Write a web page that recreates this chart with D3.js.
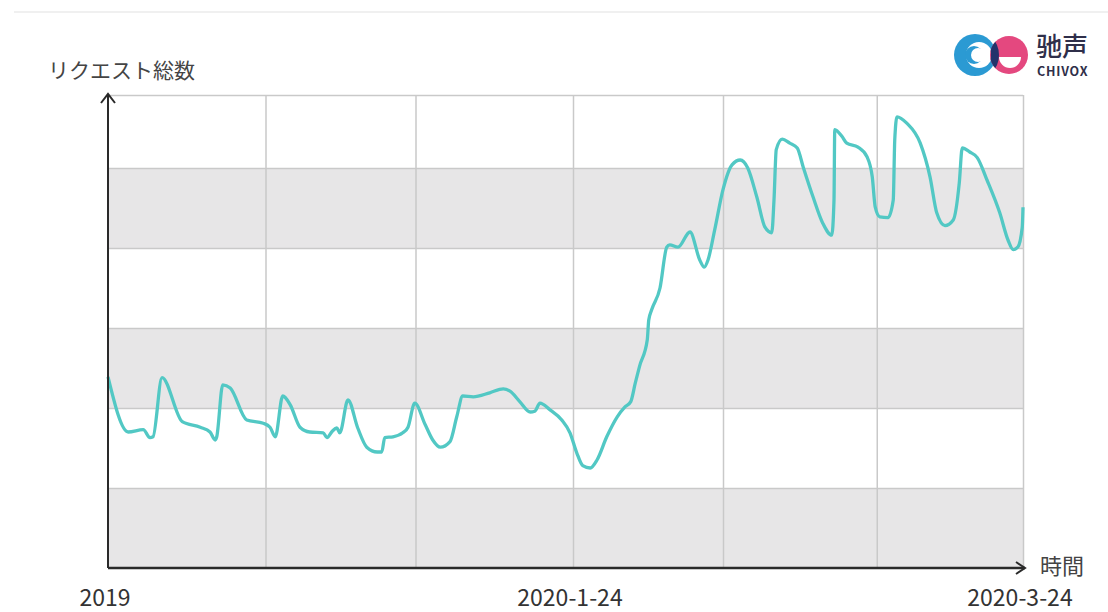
<!DOCTYPE html>
<html>
<head>
<meta charset="utf-8">
<script src="https://cdn.jsdelivr.net/npm/d3@7"></script>
<style>
body { margin: 0; background: #fff; }
svg { display: block; }
text { font-family: "Noto Sans CJK JP", "Noto Sans", sans-serif; }
</style>
</head>
<body>
<svg id="chart" width="1108" height="612"></svg>
<script>
// days since start (2019) and request totals (one grid band = 100)
let days = [0, 2.7, 4.7, 5.6, 6.0, 7.2, 9.9, 12.3, 13.6, 14.3, 14.5, 15.3, 16.3, 18.5, 20.7, 21.6, 22.3,
    23.3, 24.3, 25.6, 26.9, 28.7, 29.2, 29.9, 30.5, 30.9, 32.0, 33.3, 34.5, 35.9, 36.5, 36.9, 38.0,
    39.3, 40.0, 40.9, 42.3, 43.3, 44.3, 45.6, 46.5, 47.3, 48.7, 50.9, 52.7, 53.6, 54.9, 56.3, 56.9,
    57.6, 58.9, 60.5, 61.6, 62.5, 63.3, 64.3, 65.2, 66.5, 67.9, 68.9, 69.7, 70.3, 70.9, 71.9, 72.1,
    72.5, 73.6, 74.5, 74.9, 76.0, 77.6, 78.9, 79.5, 80.0, 80.9, 82.0, 83.2, 84.3, 85.3, 86.5, 87.6,
    88.5, 88.8, 89.1, 89.9, 90.9, 91.9, 92.7, 94.0, 95.3, 96.5, 96.8, 96.9, 97.9, 98.5, 100.0, 101.2,
    101.9, 102.3, 102.9, 104.0, 104.7, 104.9, 105.2, 106.5, 108.3, 109.6, 110.5, 111.6, 112.7, 113.5,
    113.9, 114.9, 115.9, 117.2, 118.9, 120.0, 120.7, 121.3, 121.9, 122];
let requests = [239, 170, 173, 163, 164, 238, 183, 176, 170, 160, 164, 229, 225, 185, 181, 176, 164,
    215, 204, 176, 170, 169, 163, 171, 175, 169, 210, 175, 151, 145, 145, 163, 164,
    169, 176, 206, 179, 160, 151, 158, 189, 215, 214, 219, 224, 221, 208, 195, 196,
    206, 198, 185, 169, 144, 128, 125, 135, 164, 189, 201, 208, 231, 253, 285, 310,
    323, 350, 401, 404, 401, 420, 385, 376, 385, 423, 473, 504, 510, 500, 464, 426,
    419, 460, 523, 536, 531, 525, 501, 464, 431, 416, 460, 548, 539, 531, 526, 514,
    489, 451, 439, 438, 460, 535, 564, 556, 531, 489, 444, 428, 435, 481,
    525, 520, 513, 485, 444, 410, 398, 401, 426, 451];

let gridDays = [21, 41, 62, 82, 102.5, 122];
let gridValues = [100, 200, 300, 400, 500];
let bands = [[0, 100], [200, 300], [400, 500]];
let tickDays = [0, 62, 122];
let tickLabels = ["2019", "2020-1-24", "2020-3-24"];

let svg = d3.select("#chart");
let margin = { top: 95, right: 85, bottom: 44, left: 108 };
let width = +svg.attr("width") - margin.left - margin.right,
    height = +svg.attr("height") - margin.top - margin.bottom;

let x = d3.scaleLinear().domain([0, 122]).range([0, width]);
let yMax = 591.25;
let y = d3.scaleLinear().domain([0, yMax]).range([height, 0]);

// thin rule at top of the page
svg.append("line")
    .attr("x1", 14).attr("x2", 1108)
    .attr("y1", 12).attr("y2", 12)
    .attr("stroke", "#ebebeb").attr("stroke-width", 1.5);

let focus = svg.append("g")
    .attr("transform", "translate(" + margin.left + "," + margin.top + ")");

// grey bands
focus.selectAll(".band")
    .data(bands)
    .enter()
    .append("rect")
    .attr("class", "band")
    .attr("x", 0)
    .attr("width", width)
    .attr("y", function (d) { return y(d[1]); })
    .attr("height", function (d) { return y(d[0]) - y(d[1]); })
    .attr("fill", "#e7e6e7");

// grid
let gridY = focus.append("g")
    .call(d3.axisLeft(y).tickValues(gridValues.concat([yMax])).tickSize(-width).tickFormat(""));
let gridX = focus.append("g")
    .attr("transform", "translate(0," + height + ")")
    .call(d3.axisBottom(x).tickValues(gridDays).tickSize(-height).tickFormat(""));
[gridY, gridX].forEach(function (g) {
    g.select(".domain").remove();
    g.selectAll(".tick line").attr("stroke", "#c9c9c9").attr("stroke-width", 1.5);
});

// data line
let line = d3.line()
    .x(function (d, i) { return x(days[i]); })
    .y(function (d) { return y(d); })
    .curve(d3.curveMonotoneX);

focus.append("path")
    .datum(requests)
    .attr("d", line)
    .attr("fill", "none")
    .attr("stroke", "#52c8c4")
    .attr("stroke-width", 3.3)
    .attr("stroke-linejoin", "round");

// axes with arrows
let axisColor = "#2a2a2a";
focus.append("line")
    .attr("x1", 0).attr("x2", 0)
    .attr("y1", height).attr("y2", -1)
    .attr("stroke", axisColor).attr("stroke-width", 2);
focus.append("path")
    .attr("d", "M-7,8 L0,-1 L7,8")
    .attr("fill", "none").attr("stroke", axisColor).attr("stroke-width", 2);
focus.append("line")
    .attr("x1", 0).attr("x2", width + 2)
    .attr("y1", height).attr("y2", height)
    .attr("stroke", axisColor).attr("stroke-width", 2.5);
focus.append("path")
    .attr("d", "M" + (width - 7) + "," + (height - 6) + " L" + (width + 2) + "," + height + " L" + (width - 7) + "," + (height + 6))
    .attr("fill", "none").attr("stroke", axisColor).attr("stroke-width", 2);

// tick labels
focus.selectAll(".tlabel")
    .data(tickDays)
    .enter()
    .append("text")
    .attr("class", "tlabel")
    .attr("x", function (d) { return x(d) - 3; })
    .attr("y", height + 38)
    .attr("text-anchor", "middle")
    .attr("font-family", "'Noto Sans', sans-serif")
    .attr("font-size", 23)
    .attr("fill", "#333")
    .text(function (d, i) { return tickLabels[i]; });

// axis titles
svg.append("text")
    .attr("x", 48).attr("y", 78)
    .attr("font-size", 21)
    .attr("fill", "#444")
    .text("リクエスト総数");
svg.append("text")
    .attr("x", 1040).attr("y", 574)
    .attr("font-size", 22)
    .attr("fill", "#444")
    .text("時間");

// CHIVOX logo
let logo = svg.append("g").attr("transform", "translate(975,55)");
let defs = svg.append("defs");
defs.append("clipPath").attr("id", "pinkClip")
    .append("circle").attr("cx", 34).attr("cy", 0).attr("r", 19)
    .attr("transform", "translate(975,55)");
logo.append("circle").attr("r", 21).attr("fill", "#2b9ad3");
logo.append("circle").attr("cx", 4).attr("r", 13).attr("fill", "#fff");
logo.append("circle").attr("cx", -1).attr("r", 9).attr("fill", "#2b9ad3");
logo.append("circle").attr("cx", 3).attr("r", 7).attr("fill", "#fff");
logo.append("circle").attr("cx", 34).attr("r", 19).attr("fill", "#e4487f");
logo.append("path")
    .attr("d", "M24,2 A11,11 0 0 0 46,2 Z")
    .attr("fill", "#fff");
svg.append("g").attr("clip-path", "url(#pinkClip)")
    .append("circle").attr("cx", 975).attr("cy", 55).attr("r", 21)
    .attr("fill", "none").attr("stroke", "#23336b").attr("stroke-width", 8)
    .attr("transform", "translate(-1,0)");
svg.append("text")
    .attr("x", 1036).attr("y", 56)
    .attr("font-size", 26)
    .attr("font-weight", 500)
    .attr("fill", "#2f2f4a")
    .text("驰声");
svg.append("text")
    .attr("x", 1037).attr("y", 76)
    .attr("font-family", "'Liberation Sans', Arial, sans-serif")
    .attr("font-size", 12.5)
    .attr("font-weight", "bold")
    .attr("letter-spacing", 0.8)
    .attr("fill", "#2f2f4a")
    .text("CHIVOX");
</script>
</body>
</html>
